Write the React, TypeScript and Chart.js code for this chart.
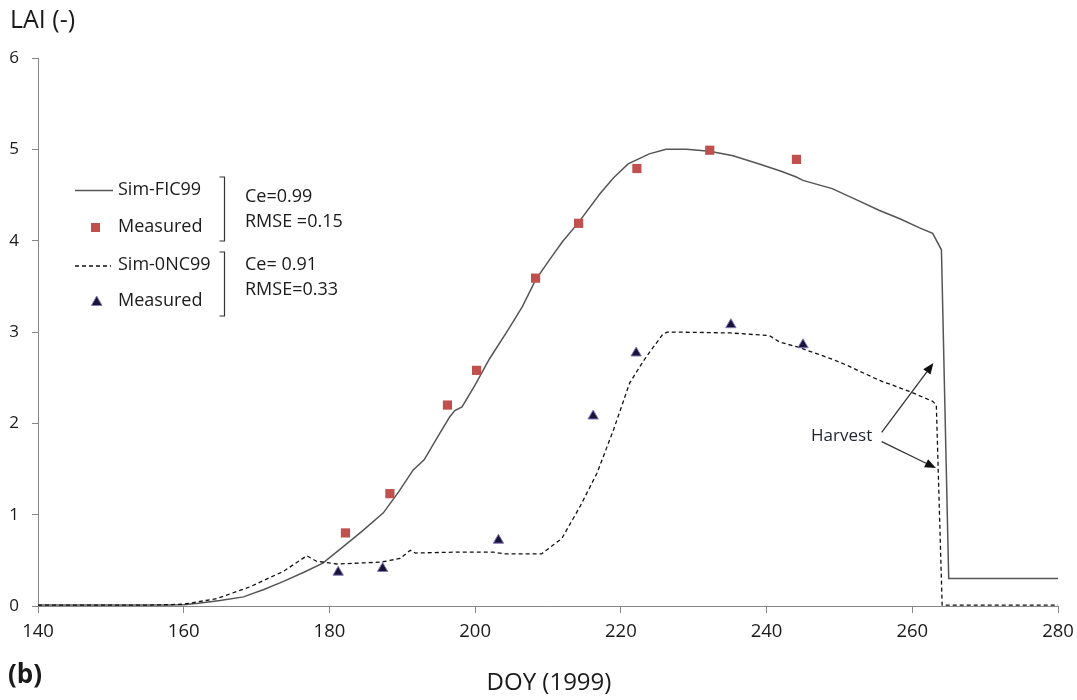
import React, { useEffect, useRef } from "react";
import { Chart, registerables } from "chart.js";

Chart.register(...registerables);

const FONT = '"Open Sans", "Liberation Sans", sans-serif';

// Simulated LAI, Sim-FIC99 (solid)
const ficDays = [140, 150, 156, 158, 160, 162, 165, 168.2, 171, 173.7, 176.5, 179.1, 181.9, 184.5, 187.4, 189.5, 191.5, 193, 195, 196.5, 197.2, 198.2, 200, 202, 204.5, 206.5, 208.3, 210.2, 212, 214.2, 217.1, 219, 221, 223.9, 226.2, 229, 232.2, 235.4, 239, 242, 244, 245, 249, 252, 255.5, 258.3, 261, 262.8, 264, 265, 270, 275, 280];
const ficLAI = [0.01, 0.01, 0.01, 0.012, 0.015, 0.03, 0.06, 0.10, 0.18, 0.27, 0.37, 0.47, 0.65, 0.82, 1.02, 1.25, 1.49, 1.60, 1.87, 2.07, 2.14, 2.18, 2.42, 2.71, 3.02, 3.28, 3.57, 3.79, 3.99, 4.20, 4.51, 4.69, 4.84, 4.95, 5.0, 5.0, 4.98, 4.93, 4.84, 4.76, 4.70, 4.66, 4.57, 4.46, 4.33, 4.24, 4.14, 4.08, 3.90, 0.30, 0.30, 0.30, 0.30];

// Simulated LAI, Sim-0NC99 (dashed)
const oncDays = [140, 150, 155, 158, 160, 164.5, 169.1, 173.7, 176.9, 178.2, 181, 187, 189.7, 191.1, 191.8, 197.5, 202.5, 204.1, 209.1, 211.9, 214.4, 216.7, 219, 221.2, 222.6, 223.5, 225.8, 226.5, 235, 240.4, 241.8, 244.5, 249.1, 250.9, 255.5, 259.6, 262.8, 263.3, 263.7, 264.1, 270, 275, 280];
const oncLAI = [0.01, 0.01, 0.01, 0.015, 0.02, 0.08, 0.21, 0.38, 0.55, 0.49, 0.46, 0.48, 0.52, 0.61, 0.58, 0.59, 0.59, 0.57, 0.57, 0.74, 1.09, 1.45, 1.93, 2.44, 2.62, 2.73, 2.98, 3.0, 2.99, 2.96, 2.89, 2.83, 2.70, 2.64, 2.47, 2.35, 2.24, 2.20, 1.10, 0.01, 0.01, 0.01, 0.01];

// Measured LAI
const measFicDays = [182.2, 188.3, 196.2, 200.2, 208.3, 214.2, 222.2, 232.2, 244.1];
const measFicLAI = [0.80, 1.23, 2.20, 2.58, 3.59, 4.19, 4.79, 4.99, 4.89];
const measOncDays = [181.2, 187.3, 203.2, 216.2, 222.1, 235.1, 245.0];
const measOncLAI = [0.37, 0.41, 0.72, 2.08, 2.77, 3.08, 2.86];

const xTicks = [140, 160, 180, 200, 220, 240, 260, 280];
const yTicks = [0, 1, 2, 3, 4, 5, 6];

// Harvest annotation (data coordinates)
const harvestLabel = { day: 254.5, lai: 1.86 };
const harvestArrows = [
  { from: [255.8, 1.9], to: [262.9, 2.66] },
  { from: [255.8, 1.8], to: [263.25, 1.51] },
];

const pts = (xs: number[], ys: number[]) => xs.map((x, i) => ({ x, y: ys[i] }));

function drawArrow(ctx: CanvasRenderingContext2D, x1: number, y1: number, x2: number, y2: number) {
  const ang = Math.atan2(y2 - y1, x2 - x1);
  const len = 11;
  const w = 4.5;
  const bx = x2 - len * Math.cos(ang);
  const by = y2 - len * Math.sin(ang);
  ctx.beginPath();
  ctx.moveTo(x1, y1);
  ctx.lineTo(bx, by);
  ctx.stroke();
  ctx.beginPath();
  ctx.moveTo(x2, y2);
  ctx.lineTo(bx + w * Math.sin(ang), by - w * Math.cos(ang));
  ctx.lineTo(bx - w * Math.sin(ang), by + w * Math.cos(ang));
  ctx.closePath();
  ctx.fill();
}

const annotPlugin = {
  id: "annot",
  afterDraw(chart: any) {
    const ctx: CanvasRenderingContext2D = chart.ctx;
    const xs = chart.scales.x;
    const ys = chart.scales.y;
    ctx.save();
    ctx.fillStyle = "#1a1a1a";
    ctx.textBaseline = "middle";
    ctx.textAlign = "left";

    ctx.font = `25px ${FONT}`;
    ctx.fillText("LAI (-)", 10, 21);

    ctx.font = `bold 26px ${FONT}`;
    ctx.fillText("(b)", 8, 676);

    ctx.font = `24px ${FONT}`;
    ctx.textAlign = "center";
    ctx.fillText("DOY (1999)", 549, 683);

    // Legend
    ctx.textAlign = "left";
    ctx.font = `18px ${FONT}`;
    ctx.strokeStyle = "#555";
    ctx.lineWidth = 1.5;
    ctx.beginPath();
    ctx.moveTo(75, 190.5);
    ctx.lineTo(113, 190.5);
    ctx.stroke();
    ctx.fillText("Sim-FIC99", 118, 190);

    ctx.fillStyle = "#c0504d";
    ctx.fillRect(91, 223, 9, 9);
    ctx.fillStyle = "#1a1a1a";
    ctx.fillText("Measured", 118, 226.5);

    ctx.strokeStyle = "#111";
    ctx.lineWidth = 1.3;
    ctx.setLineDash([4, 3]);
    ctx.beginPath();
    ctx.moveTo(75, 266);
    ctx.lineTo(111, 266);
    ctx.stroke();
    ctx.setLineDash([]);
    ctx.fillText("Sim-0NC99", 118, 265);

    ctx.fillStyle = "#17143a";
    ctx.strokeStyle = "#8a78b8";
    ctx.lineWidth = 1;
    ctx.beginPath();
    ctx.moveTo(96.7, 296);
    ctx.lineTo(102, 305.5);
    ctx.lineTo(91.4, 305.5);
    ctx.closePath();
    ctx.fill();
    ctx.stroke();
    ctx.fillStyle = "#1a1a1a";
    ctx.fillText("Measured", 118, 300.5);

    // Brackets
    ctx.strokeStyle = "#333";
    ctx.lineWidth = 1.2;
    const bracket = (top: number, bot: number) => {
      ctx.beginPath();
      ctx.moveTo(219.5, top);
      ctx.lineTo(224.5, top);
      ctx.lineTo(224.5, bot);
      ctx.lineTo(219.5, bot);
      ctx.stroke();
    };
    bracket(177, 241);
    bracket(252, 316);

    ctx.fillText("Ce=0.99", 245, 197);
    ctx.fillText("RMSE =0.15", 245, 222);
    ctx.fillText("Ce= 0.91", 245, 264.5);
    ctx.fillText("RMSE=0.33", 245, 289.5);

    // Harvest annotation
    ctx.font = `17px ${FONT}`;
    ctx.textAlign = "right";
    ctx.fillStyle = "#1f2430";
    ctx.fillText("Harvest", xs.getPixelForValue(harvestLabel.day), ys.getPixelForValue(harvestLabel.lai));
    ctx.strokeStyle = "#333";
    ctx.fillStyle = "#111";
    ctx.lineWidth = 1.3;
    for (const a of harvestArrows) {
      drawArrow(
        ctx,
        xs.getPixelForValue(a.from[0]),
        ys.getPixelForValue(a.from[1]),
        xs.getPixelForValue(a.to[0]),
        ys.getPixelForValue(a.to[1])
      );
    }
    ctx.restore();
  },
};

export default function App() {
  const ref = useRef<HTMLCanvasElement>(null);
  useEffect(() => {
    if (!ref.current) return;
    const chart = new Chart(ref.current, {
      type: "scatter",
      data: {
        datasets: [
          {
            label: "Sim-FIC99",
            data: pts(ficDays, ficLAI),
            showLine: true,
            borderColor: "#555555",
            borderWidth: 1.5,
            pointRadius: 0,
            tension: 0,
            order: 3,
          },
          {
            label: "Sim-0NC99",
            data: pts(oncDays, oncLAI),
            showLine: true,
            borderColor: "#111111",
            borderWidth: 1.3,
            borderDash: [4, 3],
            pointRadius: 0,
            tension: 0,
            order: 2,
          },
          {
            label: "Measured FIC",
            data: pts(measFicDays, measFicLAI),
            pointStyle: "rect",
            pointRadius: 6.5,
            backgroundColor: "#c0504d",
            borderColor: "#c0504d",
            borderWidth: 0,
            order: 1,
          },
          {
            label: "Measured 0NC",
            data: pts(measOncDays, measOncLAI),
            pointStyle: "triangle",
            pointRadius: 6,
            backgroundColor: "#17143a",
            borderColor: "#8a78b8",
            borderWidth: 1,
            order: 0,
          },
        ],
      },
      options: {
        responsive: false,
        animation: false,
        layout: { padding: { top: 58, right: 19, left: 0, bottom: 0 } },
        plugins: { legend: { display: false }, tooltip: { enabled: false } },
        scales: {
          x: {
            type: "linear",
            min: 140,
            max: 280,
            afterFit: (s: any) => {
              s.height = 94;
              s.paddingLeft = 0;
              s.paddingRight = 0;
            },
            afterBuildTicks: (s: any) => {
              s.ticks = xTicks.map((v) => ({ value: v }));
            },
            border: { color: "#868686", width: 1 },
            grid: { drawOnChartArea: false, drawTicks: true, tickLength: 7, color: "#868686" },
            ticks: { color: "#1a1a1a", font: { family: FONT, size: 18.5 }, padding: 8, maxRotation: 0 },
          },
          y: {
            type: "linear",
            min: 0,
            max: 6,
            afterFit: (s: any) => {
              s.width = 38;
              s.paddingTop = 0;
              s.paddingBottom = 0;
            },
            afterBuildTicks: (s: any) => {
              s.ticks = yTicks.map((v) => ({ value: v }));
            },
            border: { color: "#868686", width: 1 },
            grid: { drawOnChartArea: false, drawTicks: true, tickLength: 6, color: "#868686" },
            ticks: { color: "#1a1a1a", font: { family: FONT, size: 17 }, padding: 13 },
          },
        },
      },
      plugins: [annotPlugin],
    } as any);
    return () => chart.destroy();
  }, []);
  return (
    <div style={{ position: "absolute", left: 0, top: 0, width: 1077, height: 700, background: "#fff" }}>
      <canvas ref={ref} width={1077} height={700} />
    </div>
  );
}
